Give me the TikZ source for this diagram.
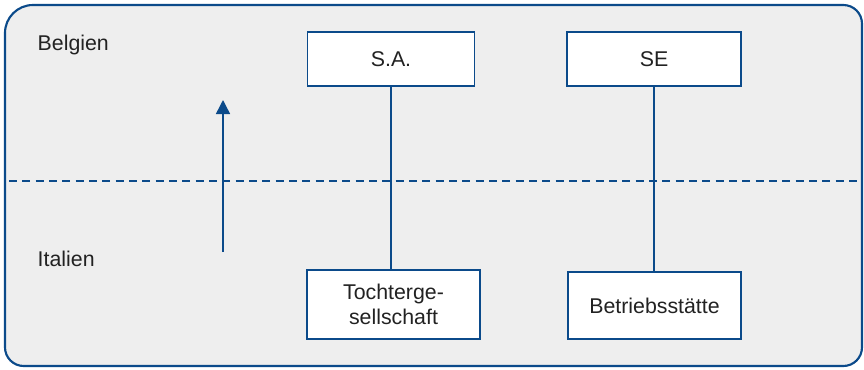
\documentclass[tikz,border=0pt]{standalone}
\usepackage{fontspec}
\setmainfont{Liberation Sans}
\usetikzlibrary{arrows.meta}

\definecolor{rahmenblau}{HTML}{0B4A8A}
\definecolor{flaeche}{HTML}{EEEEEE}
\definecolor{schrift}{HTML}{222222}

\tikzset{
    firma/.style={draw=rahmenblau, line width=1.1pt, fill=white, text=schrift,
        inner sep=0pt, align=center, font=\fontsize{16}{19}\selectfont},
    land/.style={anchor=west, text=schrift, font=\fontsize{16}{19}\selectfont},
    verbindung/.style={draw=rahmenblau, line width=1.1pt}
}

\begin{document}
\begin{tikzpicture}[x=0.75pt, y=-0.75pt]
        \useasboundingbox (0,0) rectangle (864,369);

        % Rahmen mit Hintergrund
        \filldraw[draw=rahmenblau, fill=flaeche, line width=1.6pt]
            (5,180) [rounded corners=21pt] -- (5,5) [rounded corners=14pt] -- (862,5)
            -- (862,366) -- (5,366) -- cycle;

        % Grenze zwischen den Ländern
        \draw[rahmenblau, line width=1.1pt, dash pattern=on 6pt off 4pt] (9,181) -- (860,181);

        \node[land] (belgien) at (33,45) {Belgien};
        \node[land] (italien) at (33,259) {Italien};

        \coordinate (pfeilfuss) at (223,252);
        \coordinate (pfeilspitze) at (223,100);
        \draw[verbindung, -{Triangle[length=10.5pt, width=10.5pt]}] (pfeilfuss) -- (pfeilspitze);

        \node[firma, minimum width=125pt, minimum height=40.5pt] (sa) at (391,59) {S.A.};
        \node[firma, minimum width=130.5pt, minimum height=40.5pt] (se) at (654,59) {SE};
        \node[firma, minimum width=129.75pt, minimum height=51.75pt] (tochter) at (393.5,304.5) {Tochterge-\\sellschaft};
        \node[firma, minimum width=129.75pt, minimum height=50.25pt] (betrieb) at (654.5,305.5) {Betriebsstätte};

        \draw[verbindung] (sa.south) -- (sa.south |- tochter.north);
        \draw[verbindung] (se.south) -- (se.south |- betrieb.north);
    \end{tikzpicture}
\end{document}
